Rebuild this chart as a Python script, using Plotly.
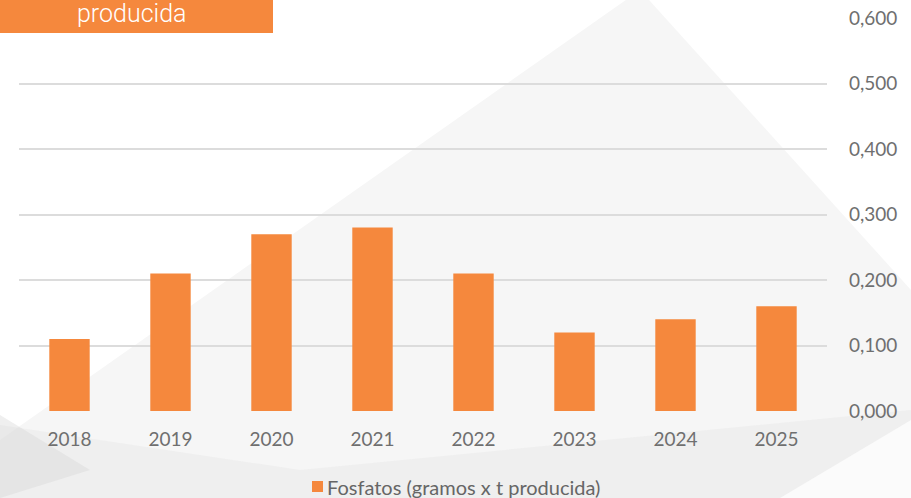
import plotly.graph_objects as go

years = ["2018", "2019", "2020", "2021", "2022", "2023", "2024", "2025"]
fosfatos = [0.110, 0.210, 0.270, 0.280, 0.210, 0.120, 0.140, 0.160]
series_name = "Fosfatos (gramos x t producida)"
title_text = "producida"
y_ticks = [0.0, 0.1, 0.2, 0.3, 0.4, 0.5, 0.6]

W, H = 911, 498
L, R, T, B = 19, 84, 18, 87
PW, PH = W - L - R, H - T - B

def px(x):
    return (x - L) / PW

def py(y):
    return (H - B - y) / PH

ORANGE = "#F5883D"
GRAY = "#6f6f6f"

fig = go.Figure()
fig.add_trace(go.Bar(x=years, y=fosfatos, name=series_name,
                     marker=dict(color=ORANGE, line=dict(width=0)),
                     showlegend=True))

def poly(pts):
    return "M " + " L ".join(f"{px(a):.4f},{py(b):.4f}" for a, b in pts) + " Z"

shapes = [
    dict(type="path", xref="paper", yref="paper", layer="below",
         path=poly([(0, 440), (640, -10), (911, 290), (911, 498), (0, 498)]),
         fillcolor="#f6f6f6", line=dict(width=0)),
    dict(type="path", xref="paper", yref="paper", layer="below",
         path=poly([(0, 425), (300, 470), (911, 410), (911, 498), (0, 498)]),
         fillcolor="rgba(225,225,225,0.35)", line=dict(width=0)),
    dict(type="path", xref="paper", yref="paper", layer="below",
         path=poly([(0, 415), (90, 470), (0, 498)]),
         fillcolor="rgba(215,215,215,0.4)", line=dict(width=0)),
    dict(type="path", xref="paper", yref="paper", layer="below",
         path=poly([(780, 498), (911, 420), (911, 498)]),
         fillcolor="rgba(251,251,251,0.95)", line=dict(width=0)),
    dict(type="rect", xref="paper", yref="paper", layer="above",
         x0=px(0), x1=px(273), y0=py(33), y1=py(-2),
         fillcolor=ORANGE, line=dict(width=0)),
    # legend swatch
    dict(type="rect", xref="paper", yref="paper", layer="above",
         x0=px(312), x1=px(323), y0=py(492), y1=py(481),
         fillcolor=ORANGE, line=dict(width=0)),
]

fig.update_layout(
    width=W, height=H,
    margin=dict(l=L, r=R, t=T, b=B, pad=0, autoexpand=False),
    paper_bgcolor="white", plot_bgcolor="rgba(0,0,0,0)",
    separators=",.",
    bargap=0.6,
    showlegend=False,
    font=dict(family="Lato, Open Sans, sans-serif", color=GRAY, size=19),
    xaxis=dict(showgrid=False, zeroline=False, showline=False, ticks="",
               automargin=False,
               ticklabelstandoff=15, tickfont=dict(size=19, color=GRAY)),
    yaxis=dict(side="right", range=[0, 0.6], tickvals=y_ticks, tickformat=".3f",
               automargin=False,
               showgrid=True, gridcolor="#dcdcdc", gridwidth=1.5,
               zeroline=False, showline=False, ticks="",
               ticklabelstandoff=21, tickfont=dict(size=19, color=GRAY)),
    shapes=shapes,
    annotations=[
        dict(text=title_text, xref="paper", yref="paper",
             x=px(132), y=py(14), xanchor="center", yanchor="middle",
             showarrow=False,
             font=dict(size=25, color="white", family="Roboto, sans-serif", weight=300)),
        dict(text=series_name, xref="paper", yref="paper",
             x=px(325), y=py(487), xanchor="left", yanchor="middle",
             showarrow=False,
             font=dict(size=20, color="#666666", family="Lato, sans-serif")),
    ],
)

fig.write_html("out.html", config={"displayModeBar": False},
               post_script="document.body.style.margin='0px';")
